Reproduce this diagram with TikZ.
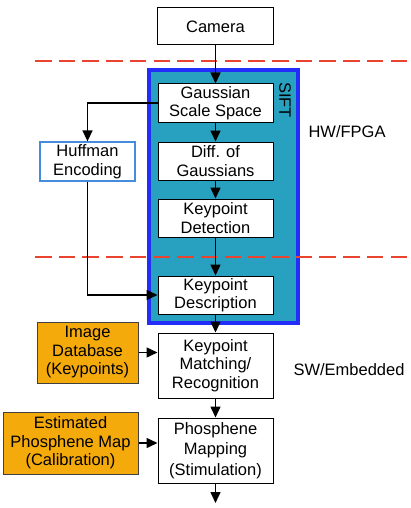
\documentclass[tikz,border=0pt]{standalone}
\usepackage{fontspec}
\setmainfont{Liberation Sans}
\usetikzlibrary{arrows.meta}
\definecolor{siftfill}{RGB}{40,160,192}
\definecolor{siftborder}{RGB}{35,45,250}
\definecolor{orangefill}{RGB}{245,170,12}
\definecolor{dashred}{RGB}{232,68,48}
\definecolor{huffblue}{RGB}{70,140,220}
\begin{document}
\begin{tikzpicture}[x=1pt,y=-1pt,
  box/.style={draw=black, line width=1pt, fill=white, align=center, inner sep=0pt, font=\fontsize{16.5}{18.5}\selectfont},
  obox/.style={box, fill=orangefill, draw=black!75},
  arr/.style={line width=1.5pt, -{Triangle[length=11pt,width=10pt]}},
  sep/.style={draw=dashred, line width=2.8pt, dash pattern=on 16.5pt off 7.2pt},
  lbl/.style={font=\fontsize{16.5}{18.5}\selectfont}
]
\useasboundingbox (0,0) rectangle (411,508);
% SIFT container
\node[draw=siftborder, line width=3.2pt, fill=siftfill, minimum width=149pt, minimum height=253pt, inner sep=0pt] (sift) at (223.5,196.5) {};
\node[lbl, rotate=-90] (siftlbl) at (285,100) {SIFT};
% separators
\coordinate (s1a) at (35,61); \coordinate (s1b) at (408,61);
\coordinate (s2a) at (35,257); \coordinate (s2b) at (408,257);
\draw[sep] (s1a) -- (s1b);
\draw[sep] (s2a) -- (s2b);
% main chain
\node[box, minimum width=116pt, minimum height=37pt] (cam) at (215.5,26.5) {Camera};
\node[box, minimum width=115pt, minimum height=38pt] (gss) at (215.5,103) {Gaussian\\Scale Space};
\node[box, minimum width=115pt, minimum height=38pt] (dog) at (215.5,161) {Diff. of\\Gaussians};
\node[box, minimum width=115pt, minimum height=38pt] (kdet) at (215.5,218) {Keypoint\\Detection};
\node[box, minimum width=115pt, minimum height=38pt] (kdes) at (215.5,295) {Keypoint\\Description};
\node[box, minimum width=115pt, minimum height=65pt] (kmat) at (215.5,365.5) {Keypoint\\Matching/\\Recognition};
\node[box, minimum width=115pt, minimum height=65pt, font=\fontsize{16.5}{20.5}\selectfont] (pm) at (215.5,450.5) {Phosphene\\Mapping\\(Stimulation)};
\coordinate (out) at (215.5,503);
% side boxes
\node[box, draw=huffblue, line width=1.3pt, minimum width=95pt, minimum height=39pt] (huff) at (87.5,161.5) {Huffman\\Encoding};
\node[obox, minimum width=101pt, minimum height=61pt] (idb) at (87.5,352.5) {Image\\Database\\(Keypoints)};
\node[obox, minimum width=135pt, minimum height=62pt] (epm) at (70.5,443) {Estimated\\Phosphene Map\\(Calibration)};
% labels
\node[lbl, anchor=west] (hw) at (305,132) {HW/FPGA};
\node[lbl, anchor=west] (sw) at (290,370) {SW/Embedded};
% arrows
\draw[arr] (cam) -- (gss);
\draw[arr] (gss) -- (dog);
\draw[arr] (dog) -- (kdet);
\draw[arr] (kdet) -- (kdes);
\draw[arr] (kdes) -- (kmat);
\draw[arr] (kmat) -- (pm);
\draw[arr] (pm) -- (out);
\draw[arr] (gss.west) -| (huff.north);
\draw[arr] (huff.south) |- (kdes.west);
\draw[arr] (idb.east) -- (idb.east -| kmat.west);
\draw[arr] (epm.east) -- (epm.east -| pm.west);
\end{tikzpicture}
\end{document}
